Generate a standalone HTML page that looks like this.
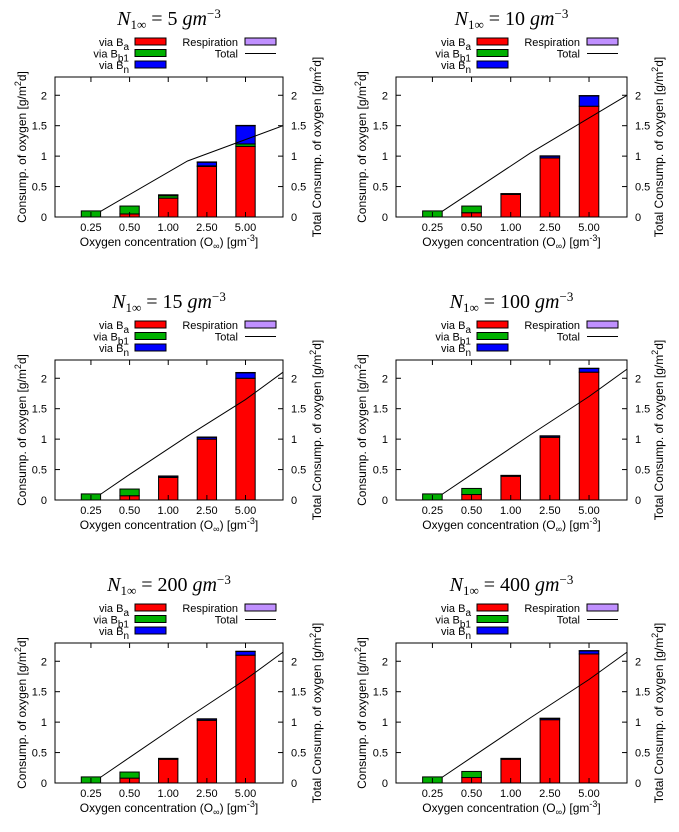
<!DOCTYPE html>
<html><head><meta charset="utf-8"><style>
body{margin:0;background:#fff}
svg text{font-family:"Liberation Sans",sans-serif;font-size:11px;fill:#000}
svg text.ax{font-size:12px}
.ttl{font-family:"Liberation Serif",serif;font-size:20px}
</style></head><body>
<svg id="c" width="679" height="827" viewBox="0 0 679 827" xmlns="http://www.w3.org/2000/svg"></svg>
<script>
const categories = ["0.25","0.50","1.00","2.50","5.00"];
const titles = ["5","10","15","100","200","400"];
const yTicks = [0,0.5,1,1.5,2];
const yTickLabels = ["0","0.5","1","1.5","2"];
const viaBa = [[0,0.05,0.31,0.83,1.16],[0,0.07,0.37,0.97,1.82],[0,0.07,0.37,1.0,2.0],[0,0.09,0.39,1.03,2.1],[0,0.08,0.39,1.03,2.1],[0,0.09,0.39,1.04,2.12]];
const viaBb1 = [[0.1,0.13,0.04,0.01,0.04],[0.1,0.11,0,0,0],[0.1,0.11,0,0,0],[0.1,0.1,0,0,0],[0.1,0.1,0,0,0],[0.1,0.1,0,0,0]];
const viaBn = [[0,0,0.01,0.06,0.3],[0,0,0.01,0.03,0.17],[0,0,0.02,0.03,0.09],[0,0,0.01,0.02,0.06],[0,0,0.01,0.02,0.06],[0,0,0.01,0.02,0.05]];
const respiration = [[0,0,0.005,0.005,0.005],[0,0,0.005,0.005,0.005],[0,0,0.005,0.005,0.005],[0,0,0.005,0.005,0.005],[0,0,0.005,0.005,0.005],[0,0,0.005,0.005,0.005]];
const lineX = [[0.24,2.5,4.97],[0.24,2.5,4.97],[0.24,1,2.5,4,4.97],[0.24,1,2.5,4,4.97],[0.24,1,2.5,4,4.97],[0.24,1,2.5,4,4.97]];
const lineY = [[0.09,0.92,1.5],[0.09,1.05,2.0],[0.09,0.42,1.05,1.65,2.1],[0.09,0.42,1.07,1.7,2.15],[0.09,0.42,1.07,1.7,2.15],[0.09,0.42,1.07,1.7,2.15]];

const NS="http://www.w3.org/2000/svg";
const svg=document.getElementById('c');
function mk(tag,attrs,parent,txt){const e=document.createElementNS(NS,tag);for(const k in attrs)e.setAttribute(k,attrs[k]);if(txt!==undefined)e.textContent=txt;(parent||svg).appendChild(e);return e;}
const colors=["#ff0000","#00b000","#0000ff","#c090ff"];
const names=["via-ba","via-bb1","via-bn","respiration"];

for(let p=0;p<6;p++){
  const col=p%2,row=Math.floor(p/2);
  const ox=col?340:0, oy=row*283;
  const L=ox+(col?56:55), R=ox+(col?287:283), T=oy+77, B=oy+217;
  const g=mk('g',{});
  
  
  const xs=v=>L+(v+0.93)/(4.97+0.93)*(R-L);
  const ys=v=>B-v*(B-T)/2.3;
  const cx=(L+R)/2;
  const t=mk('text',{x:cx,y:oy+25,'text-anchor':'middle',class:'ttl'},g);
  
  
  t.innerHTML='<tspan font-style="italic">N</tspan><tspan font-size="13" dy="4">1∞</tspan><tspan dy="-4"> = '+titles[p]+' </tspan><tspan font-style="italic">gm</tspan><tspan font-size="13" dy="-7">−3</tspan>';
  const lg=mk('g',{},g);
  
  
  const lx=ox+(col?137:135);
  const labs=[['via B','a'],['via B','b1'],['via B','n']];
  for(let i=0;i<3;i++){
    const yy=oy+42+i*11.5;
    const tx=mk('text',{x:lx-6,y:yy+4,'text-anchor':'end'},lg);
    
    
    tx.innerHTML=labs[i][0]+'<tspan dy="4" font-size="10">'+labs[i][1]+'</tspan>';
    const r=mk('rect',{x:lx,y:yy-4,width:31,height:7,fill:colors[i],stroke:'#000','stroke-width':1},lg);
    
    
  }
  const rx=ox+(col?247:245);
  const tr=mk('text',{x:rx-7,y:oy+46,'text-anchor':'end'},lg,'Respiration');
  
  
  const rr=mk('rect',{x:rx,y:oy+38,width:31,height:7,fill:colors[3],stroke:'#000','stroke-width':1},lg);
  
  
  const tt=mk('text',{x:rx-7,y:oy+57.5,'text-anchor':'end'},lg,'Total');
  
  
  const tl=mk('line',{x1:rx,x2:rx+31,y1:oy+53.5,y2:oy+53.5,stroke:'#000','stroke-width':1},lg);
  
  
  const bw=(xs(1)-xs(0))*0.5;
  for(let c=0;c<5;c++){
    let base=0;
    const series=[viaBa[p][c],viaBb1[p][c],viaBn[p][c],respiration[p][c]];
    for(let s=0;s<4;s++){
      const v=series[s]; if(v<=0) continue;
      const r=mk('rect',{x:xs(c)-bw/2,y:ys(base+v),width:bw,height:ys(base)-ys(base+v),fill:colors[s],stroke:'#000','stroke-width':1},g);
      
      
      base+=v;
    }
  }
  const pts=lineX[p].map((x,i)=>xs(x)+','+ys(lineY[p][i])).join(' ');
  const pl=mk('polyline',{points:pts,fill:'none',stroke:'#000','stroke-width':1},g);
  
  
  const fr=mk('rect',{x:L,y:T,width:R-L,height:B-T,fill:'none',stroke:'#000','stroke-width':1},g);
  
  
  yTicks.forEach((v,i)=>{
    const y=ys(v);
    mk('line',{x1:L,x2:L+5,y1:y,y2:y,stroke:'#000'},g);
    mk('line',{x1:R,x2:R-5,y1:y,y2:y,stroke:'#000'},g);
    const a=mk('text',{x:L-8,y:y+4,'text-anchor':'end'},g,yTickLabels[i]);
    
    
    const b=mk('text',{x:R+8,y:y+4,'text-anchor':'start'},g,yTickLabels[i]);
    
    
  });
  categories.forEach((c,i)=>{
    const x=xs(i);
    mk('line',{x1:x,x2:x,y1:B,y2:B-5,stroke:'#000'},g);
    mk('line',{x1:x,x2:x,y1:T,y2:T+5,stroke:'#000'},g);
    const a=mk('text',{x:x,y:B+14,'text-anchor':'middle'},g,c);
    
    
  });
  const xl=mk('text',{x:cx,y:oy+246,'text-anchor':'middle',class:'ax'},g);
  
  
  xl.innerHTML='Oxygen concentration (O<tspan font-size="9" dy="3">∞</tspan><tspan dy="-3">) [gm</tspan><tspan font-size="9" dy="-5">-3</tspan><tspan dy="5">]</tspan>';
  const yl=mk('text',{x:0,y:0,'text-anchor':'middle',class:'ax',transform:'translate('+(ox+26)+','+(oy+147)+') rotate(-90)'},g);
  
  
  yl.innerHTML='Consump. of oxygen [g/m<tspan font-size="9" dy="-5">2</tspan><tspan dy="5">d]</tspan>';
  const y2=mk('text',{x:0,y:0,'text-anchor':'middle',class:'ax',transform:'translate('+(ox+(col?323:321))+','+(oy+147)+') rotate(-90)'},g);
  
  
  y2.innerHTML='Total Consump. of oxygen [g/m<tspan font-size="9" dy="-5">2</tspan><tspan dy="5">d]</tspan>';
}
</script>
</body></html>
